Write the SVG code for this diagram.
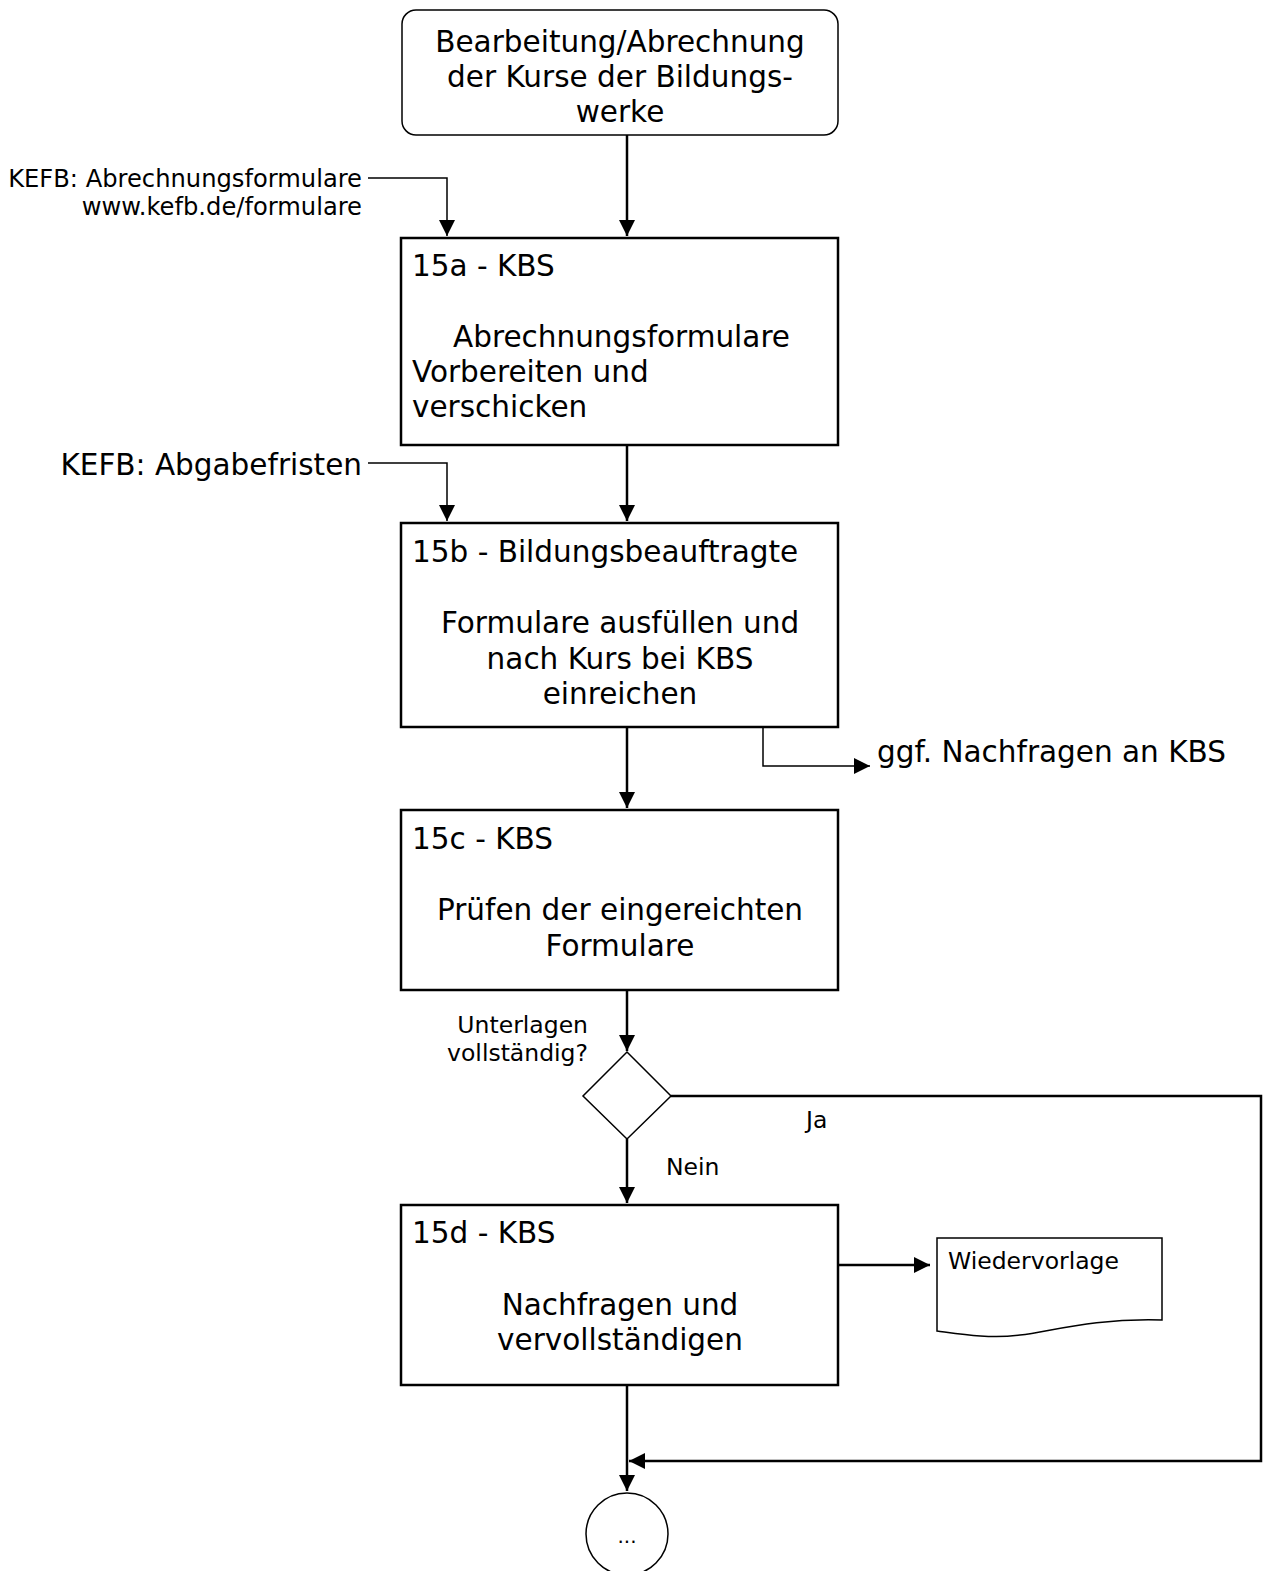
<svg xmlns="http://www.w3.org/2000/svg" width="1265" height="1571" viewBox="0 0 1265 1571">
<defs>
<marker id="ahb" viewBox="0 0 10 10" refX="10" refY="5" markerWidth="16" markerHeight="16" markerUnits="userSpaceOnUse" orient="auto">
<path d="M0,0 L10,5 L0,10 z" fill="#000"/>
</marker>
</defs>
<style>
text{font-family:"DejaVu Sans","Verdana",sans-serif;fill:#000}
.big{font-size:29.5px}
.sm{font-size:23.5px}
.kefb{font-size:24.2px}
.box{fill:#fff;stroke:#000;stroke-width:2.5}
.thin{fill:#fff;stroke:#000;stroke-width:1.5}
.con{fill:none;stroke:#000;stroke-width:2.5}
.con1{fill:none;stroke:#000;stroke-width:1.5}
.c{text-anchor:middle}
.r{text-anchor:end}
</style>
<rect width="1265" height="1571" fill="#fff"/>
<g id="connectors">
<path class="con" d="M627,135 V236" marker-end="url(#ahb)"/>
<path class="con1" d="M368,178 H447 V236" marker-end="url(#ahb)"/>
<path class="con" d="M627,445 V521" marker-end="url(#ahb)"/>
<path class="con1" d="M368,463 H447 V521" marker-end="url(#ahb)"/>
<path class="con" d="M627,727 V808" marker-end="url(#ahb)"/>
<path class="con1" d="M763,703 V766 H870" marker-end="url(#ahb)"/>
<path class="con" d="M627,990 V1051" marker-end="url(#ahb)"/>
<path class="con" d="M627,1139 V1203" marker-end="url(#ahb)"/>
<path class="con" d="M671,1096 H1261 V1461 H629" marker-end="url(#ahb)"/>
<path class="con" d="M838,1265 H930" marker-end="url(#ahb)"/>
<path class="con" d="M627,1385 V1491" marker-end="url(#ahb)"/>
</g>
<g id="start">
<rect class="thin" x="402" y="10" width="436" height="125" rx="14"/>
<text class="big c" x="620" y="52">Bearbeitung/Abrechnung</text>
<text class="big c" x="620" y="87">der Kurse der Bildungs-</text>
<text class="big c" x="620" y="122">werke</text>
</g>
<g id="input1">
<text class="kefb r" x="362" y="187">KEFB: Abrechnungsformulare</text>
<text class="kefb r" x="362" y="215">www.kefb.de/formulare</text>
</g>
<g id="n15a">
<rect class="box" x="401" y="238" width="437" height="207"/>
<text class="big" x="412" y="276">15a - KBS</text>
<text class="big" x="453" y="347">Abrechnungsformulare</text>
<text class="big" x="412" y="382">Vorbereiten und</text>
<text class="big" x="412" y="417">verschicken</text>
</g>
<g id="input2">
<text class="big r" x="362" y="475">KEFB: Abgabefristen</text>
</g>
<g id="n15b">
<rect class="box" x="401" y="523" width="437" height="204"/>
<text class="big" x="412" y="562">15b - Bildungsbeauftragte</text>
<text class="big c" x="620" y="633">Formulare ausfüllen und</text>
<text class="big c" x="620" y="669">nach Kurs bei KBS</text>
<text class="big c" x="620" y="704">einreichen</text>
</g>
<g id="nachfragen">
<text class="big" x="877" y="762">ggf. Nachfragen an KBS</text>
</g>
<g id="n15c">
<rect class="box" x="401" y="810" width="437" height="180"/>
<text class="big" x="412" y="849">15c - KBS</text>
<text class="big c" x="620" y="920">Prüfen der eingereichten</text>
<text class="big c" x="620" y="956">Formulare</text>
</g>
<g id="decision">
<path class="thin" d="M627,1052 L671,1096 L627,1139 L583,1096 z"/>
<text class="sm r" x="588" y="1033">Unterlagen</text>
<text class="sm r" x="588" y="1061">vollständig?</text>
<text class="sm" x="806" y="1128">Ja</text>
<text class="sm" x="666" y="1175">Nein</text>
</g>
<g id="n15d">
<rect class="box" x="401" y="1205" width="437" height="180"/>
<text class="big" x="412" y="1243">15d - KBS</text>
<text class="big c" x="620" y="1315">Nachfragen und</text>
<text class="big c" x="620" y="1350">vervollständigen</text>
</g>
<g id="wiedervorlage">
<path class="thin" d="M937,1238 H1162 V1320 C1090,1318 1050,1332 1020,1335 C990,1339 960,1334 937,1331 z"/>
<text class="sm" x="948" y="1269">Wiedervorlage</text>
</g>
<g id="end">
<ellipse class="thin" cx="627" cy="1534" rx="41" ry="41"/>
<text class="c" x="627" y="1543" font-size="20">...</text>
</g>
</svg>
